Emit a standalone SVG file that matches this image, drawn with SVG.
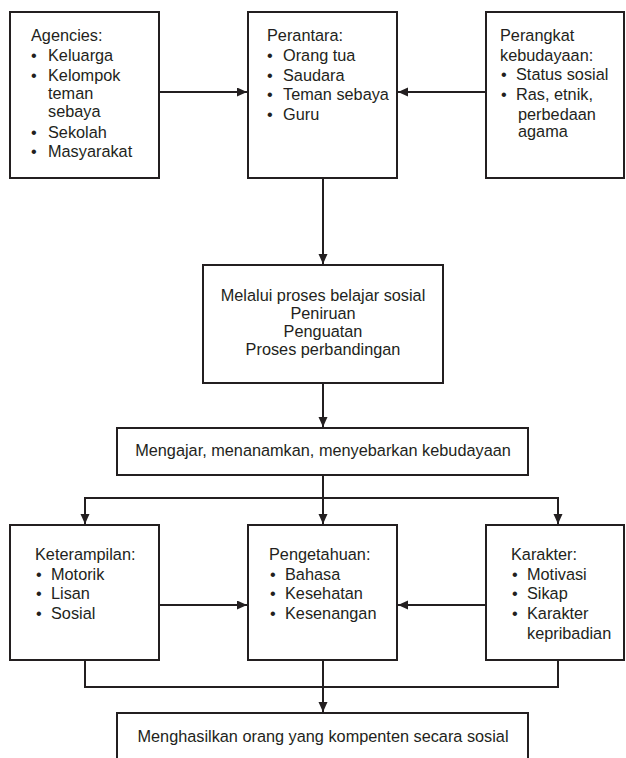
<svg xmlns="http://www.w3.org/2000/svg" width="626" height="758" viewBox="0 0 626 758">
<style>
.box{fill:#fff;stroke:#231f20;stroke-width:2}
.t{font-family:"Liberation Sans",Arial,sans-serif;font-size:16.3px;fill:#231f20}
.c{text-anchor:middle}
.ln{fill:none;stroke:#231f20;stroke-width:2}
</style>
<defs>
<marker id="ah" markerUnits="userSpaceOnUse" markerWidth="11" markerHeight="10" refX="10" refY="4.5" orient="auto">
<path d="M0,0 L10,4.5 L0,9 z" fill="#231f20"/>
</marker>
</defs>
<rect width="626" height="758" fill="#fff"/>
<g id="connectors">
<line class="ln" x1="159" y1="92" x2="247" y2="92" marker-end="url(#ah)"/>
<line class="ln" x1="486" y1="92" x2="398" y2="92" marker-end="url(#ah)"/>
<line class="ln" x1="323" y1="178" x2="323" y2="264" marker-end="url(#ah)"/>
<line class="ln" x1="323" y1="383" x2="323" y2="427" marker-end="url(#ah)"/>
<line class="ln" x1="323" y1="475" x2="323" y2="524" marker-end="url(#ah)"/>
<line class="ln" x1="84" y1="498" x2="559" y2="498"/>
<line class="ln" x1="85" y1="497" x2="85" y2="524" marker-end="url(#ah)"/>
<line class="ln" x1="558" y1="497" x2="558" y2="524" marker-end="url(#ah)"/>
<line class="ln" x1="159" y1="605" x2="247" y2="605" marker-end="url(#ah)"/>
<line class="ln" x1="486" y1="605" x2="398" y2="605" marker-end="url(#ah)"/>
<polyline class="ln" points="85,660 85,687 558,687 558,660"/>
<line class="ln" x1="323" y1="660" x2="323" y2="712" marker-end="url(#ah)"/>
</g>
<g id="agencies">
<rect class="box" x="10" y="12" width="149" height="166"/>
<text class="t" x="31" y="41">Agencies:</text>
<text class="t" x="31" y="61">•</text><text class="t" x="48" y="61">Keluarga</text>
<text class="t" x="31" y="81">•</text><text class="t" x="48" y="81">Kelompok</text>
<text class="t" x="48" y="99">teman</text>
<text class="t" x="48" y="117">sebaya</text>
<text class="t" x="31" y="138">•</text><text class="t" x="48" y="138">Sekolah</text>
<text class="t" x="31" y="157">•</text><text class="t" x="48" y="157">Masyarakat</text>
</g>
<g id="perantara">
<rect class="box" x="248" y="12" width="149" height="166"/>
<text class="t" x="267" y="41">Perantara:</text>
<text class="t" x="267" y="61">•</text><text class="t" x="283" y="61">Orang tua</text>
<text class="t" x="267" y="81">•</text><text class="t" x="283" y="81">Saudara</text>
<text class="t" x="267" y="100">•</text><text class="t" x="283" y="100">Teman sebaya</text>
<text class="t" x="267" y="120">•</text><text class="t" x="283" y="120">Guru</text>
</g>
<g id="perangkat">
<rect class="box" x="486" y="12" width="138" height="166"/>
<text class="t" x="500" y="41">Perangkat</text>
<text class="t" x="500" y="61">kebudayaan:</text>
<text class="t" x="501" y="80">•</text><text class="t" x="516" y="80">Status sosial</text>
<text class="t" x="501" y="100">•</text><text class="t" x="516" y="100">Ras, etnik,</text>
<text class="t" x="518" y="119.5">perbedaan</text>
<text class="t" x="518" y="137">agama</text>
</g>
<g id="melalui">
<rect class="box" x="203" y="265" width="240" height="118"/>
<text class="t c" x="323" y="301">Melalui proses belajar sosial</text>
<text class="t c" x="323" y="319">Peniruan</text>
<text class="t c" x="323" y="337">Penguatan</text>
<text class="t c" x="323" y="355">Proses perbandingan</text>
</g>
<g id="mengajar">
<rect class="box" x="117" y="428" width="411" height="47"/>
<text class="t c" x="323" y="456">Mengajar, menanamkan, menyebarkan kebudayaan</text>
</g>
<g id="keterampilan">
<rect class="box" x="10" y="525" width="149" height="135"/>
<text class="t" x="35" y="560">Keterampilan:</text>
<text class="t" x="36" y="579.5">•</text><text class="t" x="51" y="579.5">Motorik</text>
<text class="t" x="36" y="599">•</text><text class="t" x="51" y="599">Lisan</text>
<text class="t" x="36" y="619">•</text><text class="t" x="51" y="619">Sosial</text>
</g>
<g id="pengetahuan">
<rect class="box" x="248" y="525" width="149" height="135"/>
<text class="t" x="269" y="560">Pengetahuan:</text>
<text class="t" x="270" y="579.5">•</text><text class="t" x="285" y="579.5">Bahasa</text>
<text class="t" x="270" y="599">•</text><text class="t" x="285" y="599">Kesehatan</text>
<text class="t" x="270" y="619">•</text><text class="t" x="285" y="619">Kesenangan</text>
</g>
<g id="karakter">
<rect class="box" x="486" y="525" width="138" height="135"/>
<text class="t" x="511" y="560">Karakter:</text>
<text class="t" x="512" y="579.5">•</text><text class="t" x="527" y="579.5">Motivasi</text>
<text class="t" x="512" y="599">•</text><text class="t" x="527" y="599">Sikap</text>
<text class="t" x="512" y="619">•</text><text class="t" x="527" y="619">Karakter</text>
<text class="t" x="527" y="638.5">kepribadian</text>
</g>
<g id="menghasilkan">
<rect class="box" x="117" y="713" width="411" height="60"/>
<text class="t c" x="323" y="742">Menghasilkan orang yang kompenten secara sosial</text>
</g>
</svg>
